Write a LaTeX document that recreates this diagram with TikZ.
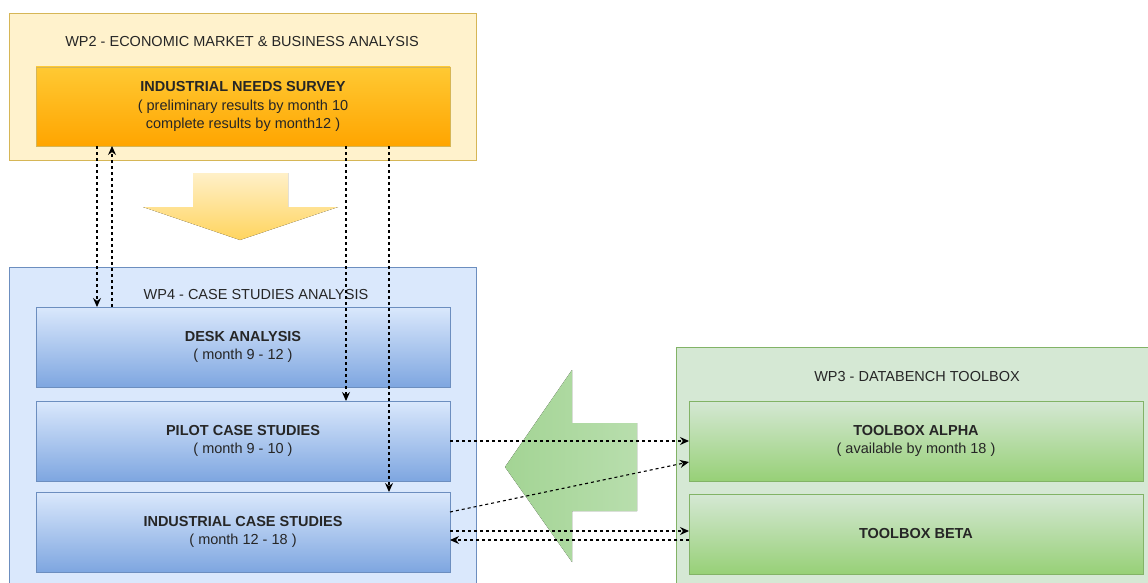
\documentclass[tikz,border=0pt]{standalone}
\usepackage{fontspec}
\setmainfont{Liberation Sans}
\usepackage{tikz}
\usetikzlibrary{positioning,arrows.meta}

\definecolor{yline}{HTML}{D6B656}
\definecolor{yback}{HTML}{FFF2CC}
\definecolor{ytop}{HTML}{FFC933}
\definecolor{ybot}{HTML}{FFA500}
\definecolor{ysoft}{HTML}{FFF0C8}
\definecolor{ystrong}{HTML}{FFD45E}
\definecolor{bline}{HTML}{6C8EBF}
\definecolor{bback}{HTML}{DAE8FC}
\definecolor{btop}{HTML}{DAE8FC}
\definecolor{bbot}{HTML}{7EA6E0}
\definecolor{gline}{HTML}{82B366}
\definecolor{gback}{HTML}{D5E8D4}
\definecolor{gtop}{HTML}{D5E8D4}
\definecolor{gbot}{HTML}{97D077}
\definecolor{gstrong}{HTML}{A3D494}
\definecolor{gsoft}{HTML}{B8DEAD}
\definecolor{txtgray}{HTML}{262626}

\begin{document}
\begin{tikzpicture}[x=1pt,y=-1pt,
	font=\fontsize{14.5}{18.5}\selectfont,
	every node/.style={inner sep=0pt,outer sep=0pt,text=txtgray},
	wpbox/.style={rectangle,draw=#1line,fill=#1back,line width=0.6pt},
	taskbox/.style={rectangle,draw=#1line,top color=#1top,bottom color=#1bot,line width=0.6pt,
		minimum width=414pt,minimum height=80pt,align=center},
	link/.style={line width=1.1pt,dash pattern=on 3pt off 3pt,-{Stealth[length=9pt,width=8pt]}}]
	\useasboundingbox (0,0) rectangle (1148,583);
	\clip (0,0) rectangle (1148,583);
	
	\node[wpbox=y,minimum width=467pt,minimum height=147pt] (wp2) at (242.5,86.5) {};
	\node (wp2title) at (242,42) {WP2 - ECONOMIC MARKET \& BUSINESS ANALYSIS};
	\node[taskbox=y,minimum height=79pt] (survey) at (243,106.5) {\textbf{INDUSTRIAL NEEDS SURVEY}\\( preliminary results by month 10\\complete results by month12 )};
	
	\node[wpbox=b,minimum width=467pt,minimum height=330pt,anchor=north] (wp4) at (242.5,267) {};
	\node (wp4title) at (256,295) {WP4 - CASE STUDIES ANALYSIS};
	\node[taskbox=b] (desk) at (243,347) {\textbf{DESK ANALYSIS}\\( month 9 - 12 )};
	\node[taskbox=b,below=14pt of desk] (pilot) {\textbf{PILOT CASE STUDIES}\\( month 9 - 10 )};
	\node[taskbox=b,below=11pt of pilot] (industrial) {\textbf{INDUSTRIAL CASE STUDIES}\\( month 12 - 18 )};
	
	\node[wpbox=g,minimum width=490pt,minimum height=250pt,anchor=north west] (wp3) at (676,347) {};
	\node (wp3title) at (917,377) {WP3 - DATABENCH TOOLBOX};
	\node[taskbox=g,minimum width=454pt] (alpha) at (916,441) {\textbf{TOOLBOX ALPHA}\\( available by month 18 )};
	\node[taskbox=g,minimum width=454pt,below=13pt of alpha] (beta) {\textbf{TOOLBOX BETA}};
	
	\fill[top color=ysoft,bottom color=ystrong] (193,173) -- (288,173) -- (288,207) -- (338,207) -- (240,240) -- (143,207) -- (193,207) -- cycle;
	\fill[left color=gstrong,right color=gsoft] (505,467) -- (572,370) -- (572,423) -- (637,423) -- (637,511) -- (572,511) -- (572,562) -- cycle;
	
	\draw[link] ([xshift=61pt]survey.south west) -- ([xshift=61pt]desk.north west);
	\draw[link] ([xshift=76pt]desk.north west) -- ([xshift=76pt]survey.south west);
	\draw[link] ([xshift=310pt]survey.south west) -- ([xshift=310pt]pilot.north west);
	\draw[link] ([xshift=353pt]survey.south west) -- ([xshift=353pt]industrial.north west);
	
	\draw[link] (pilot.east) -- (alpha.west);
	\draw[link] ([yshift=20pt]industrial.east) -- ([yshift=-21pt]alpha.west);
	\draw[link] ([yshift=1pt]industrial.east) -- ([yshift=3pt]beta.west);
	\draw[link] ([yshift=-6pt]beta.west) -- ([yshift=-8pt]industrial.east);
\end{tikzpicture}
\end{document}
